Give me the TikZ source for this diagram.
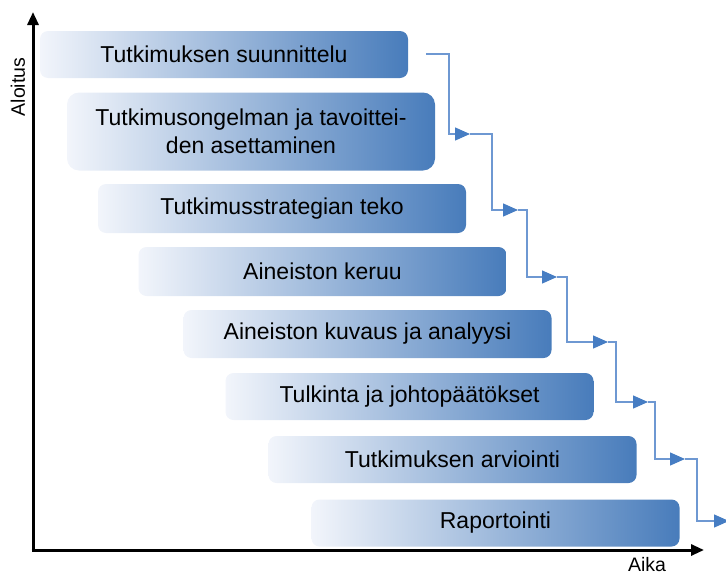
\documentclass[tikz,border=0pt]{standalone}
\usepackage{fontspec}
\setmainfont{Liberation Sans}
\usetikzlibrary{arrows.meta}
\definecolor{boxleft}{RGB}{242,245,251}
\definecolor{boxright}{RGB}{72,124,187}
\definecolor{flow}{RGB}{110,152,210}
\definecolor{flowtip}{RGB}{70,125,195}
\tikzset{
  phase/.style={rounded corners=8pt, left color=boxleft, right color=boxright,
    minimum width=368pt, minimum height=47pt, inner sep=0pt, align=center,
    font=\fontsize{23}{28}\selectfont, text=black},
  axis/.style={line width=3pt, -{Triangle[length=13pt,width=11pt]}},
  flowline/.style={draw=flow, line width=1.3pt, -{Triangle[length=15pt,width=13pt,fill=flowtip,color=flowtip]}},
  axlabel/.style={font=\fontsize{19.5}{22}\selectfont, inner sep=0pt}
}
\begin{document}
\begin{tikzpicture}[x=1pt,y=-1pt]
\useasboundingbox (0,0) rectangle (726,573);
\clip (0,0) rectangle (726,573);
% boxes (centers)
\node[phase] (b1) at (224,54.5) {Tutkimuksen suunnittelu};
\node[phase, minimum height=78pt, rounded corners=12pt] (b2) at (251,131.5) {Tutkimusongelman ja tavoittei-\\den asettaminen};
\node[phase, minimum height=49pt] (b3) at (282,208.5) {Tutkimusstrategian teko};
\node[phase, minimum height=49pt] (b4) at (322.5,271.5) {Aineiston keruu};
\node[phase, minimum height=48pt] (b5) at (367.5,334) {Aineiston kuvaus ja analyysi};
\node[phase] (b6) at (409.5,396.5) {Tulkinta ja johtopäätökset};
\node[phase] (b7) at (452.5,459.5) {Tutkimuksen arviointi};
\node[phase] (b8) at (495.5,523) {Raportointi};
% axes
\coordinate (o) at (33,550);
\coordinate (ytop) at (33,12);
\coordinate (xend) at (704,550);
\draw[axis] (o) -- (ytop);
\draw[axis] ([xshift=-1.5pt]o) -- (xend);
\node[axlabel, rotate=90] (ylab) at (18,87) {Aloitus};
\node[axlabel] (xlab) at (647,565) {Aika};
% flow chain
\coordinate (p0) at (426,54);
\coordinate (p1) at (470,134);
\coordinate (p2) at (518,210);
\coordinate (p3) at (557,277);
\coordinate (p4) at (608,342);
\coordinate (p5) at (648,402);
\coordinate (p6) at (685,459);
\coordinate (p7) at (729,521);
\draw[flowline] (p0) -- (449,54) -- (449,134) -- (p1);
\draw[flowline] (p1) -- (492,134) -- (492,210) -- (p2);
\draw[flowline] (p2) -- (527,210) -- (527,277) -- (p3);
\draw[flowline] (p3) -- (567,277) -- (567,342) -- (p4);
\draw[flowline] (p4) -- (616,342) -- (616,402) -- (p5);
\draw[flowline] (p5) -- (655,402) -- (655,459) -- (p6);
\draw[flowline] (p6) -- (697,459) -- (697,521) -- (p7);
\end{tikzpicture}
\end{document}
